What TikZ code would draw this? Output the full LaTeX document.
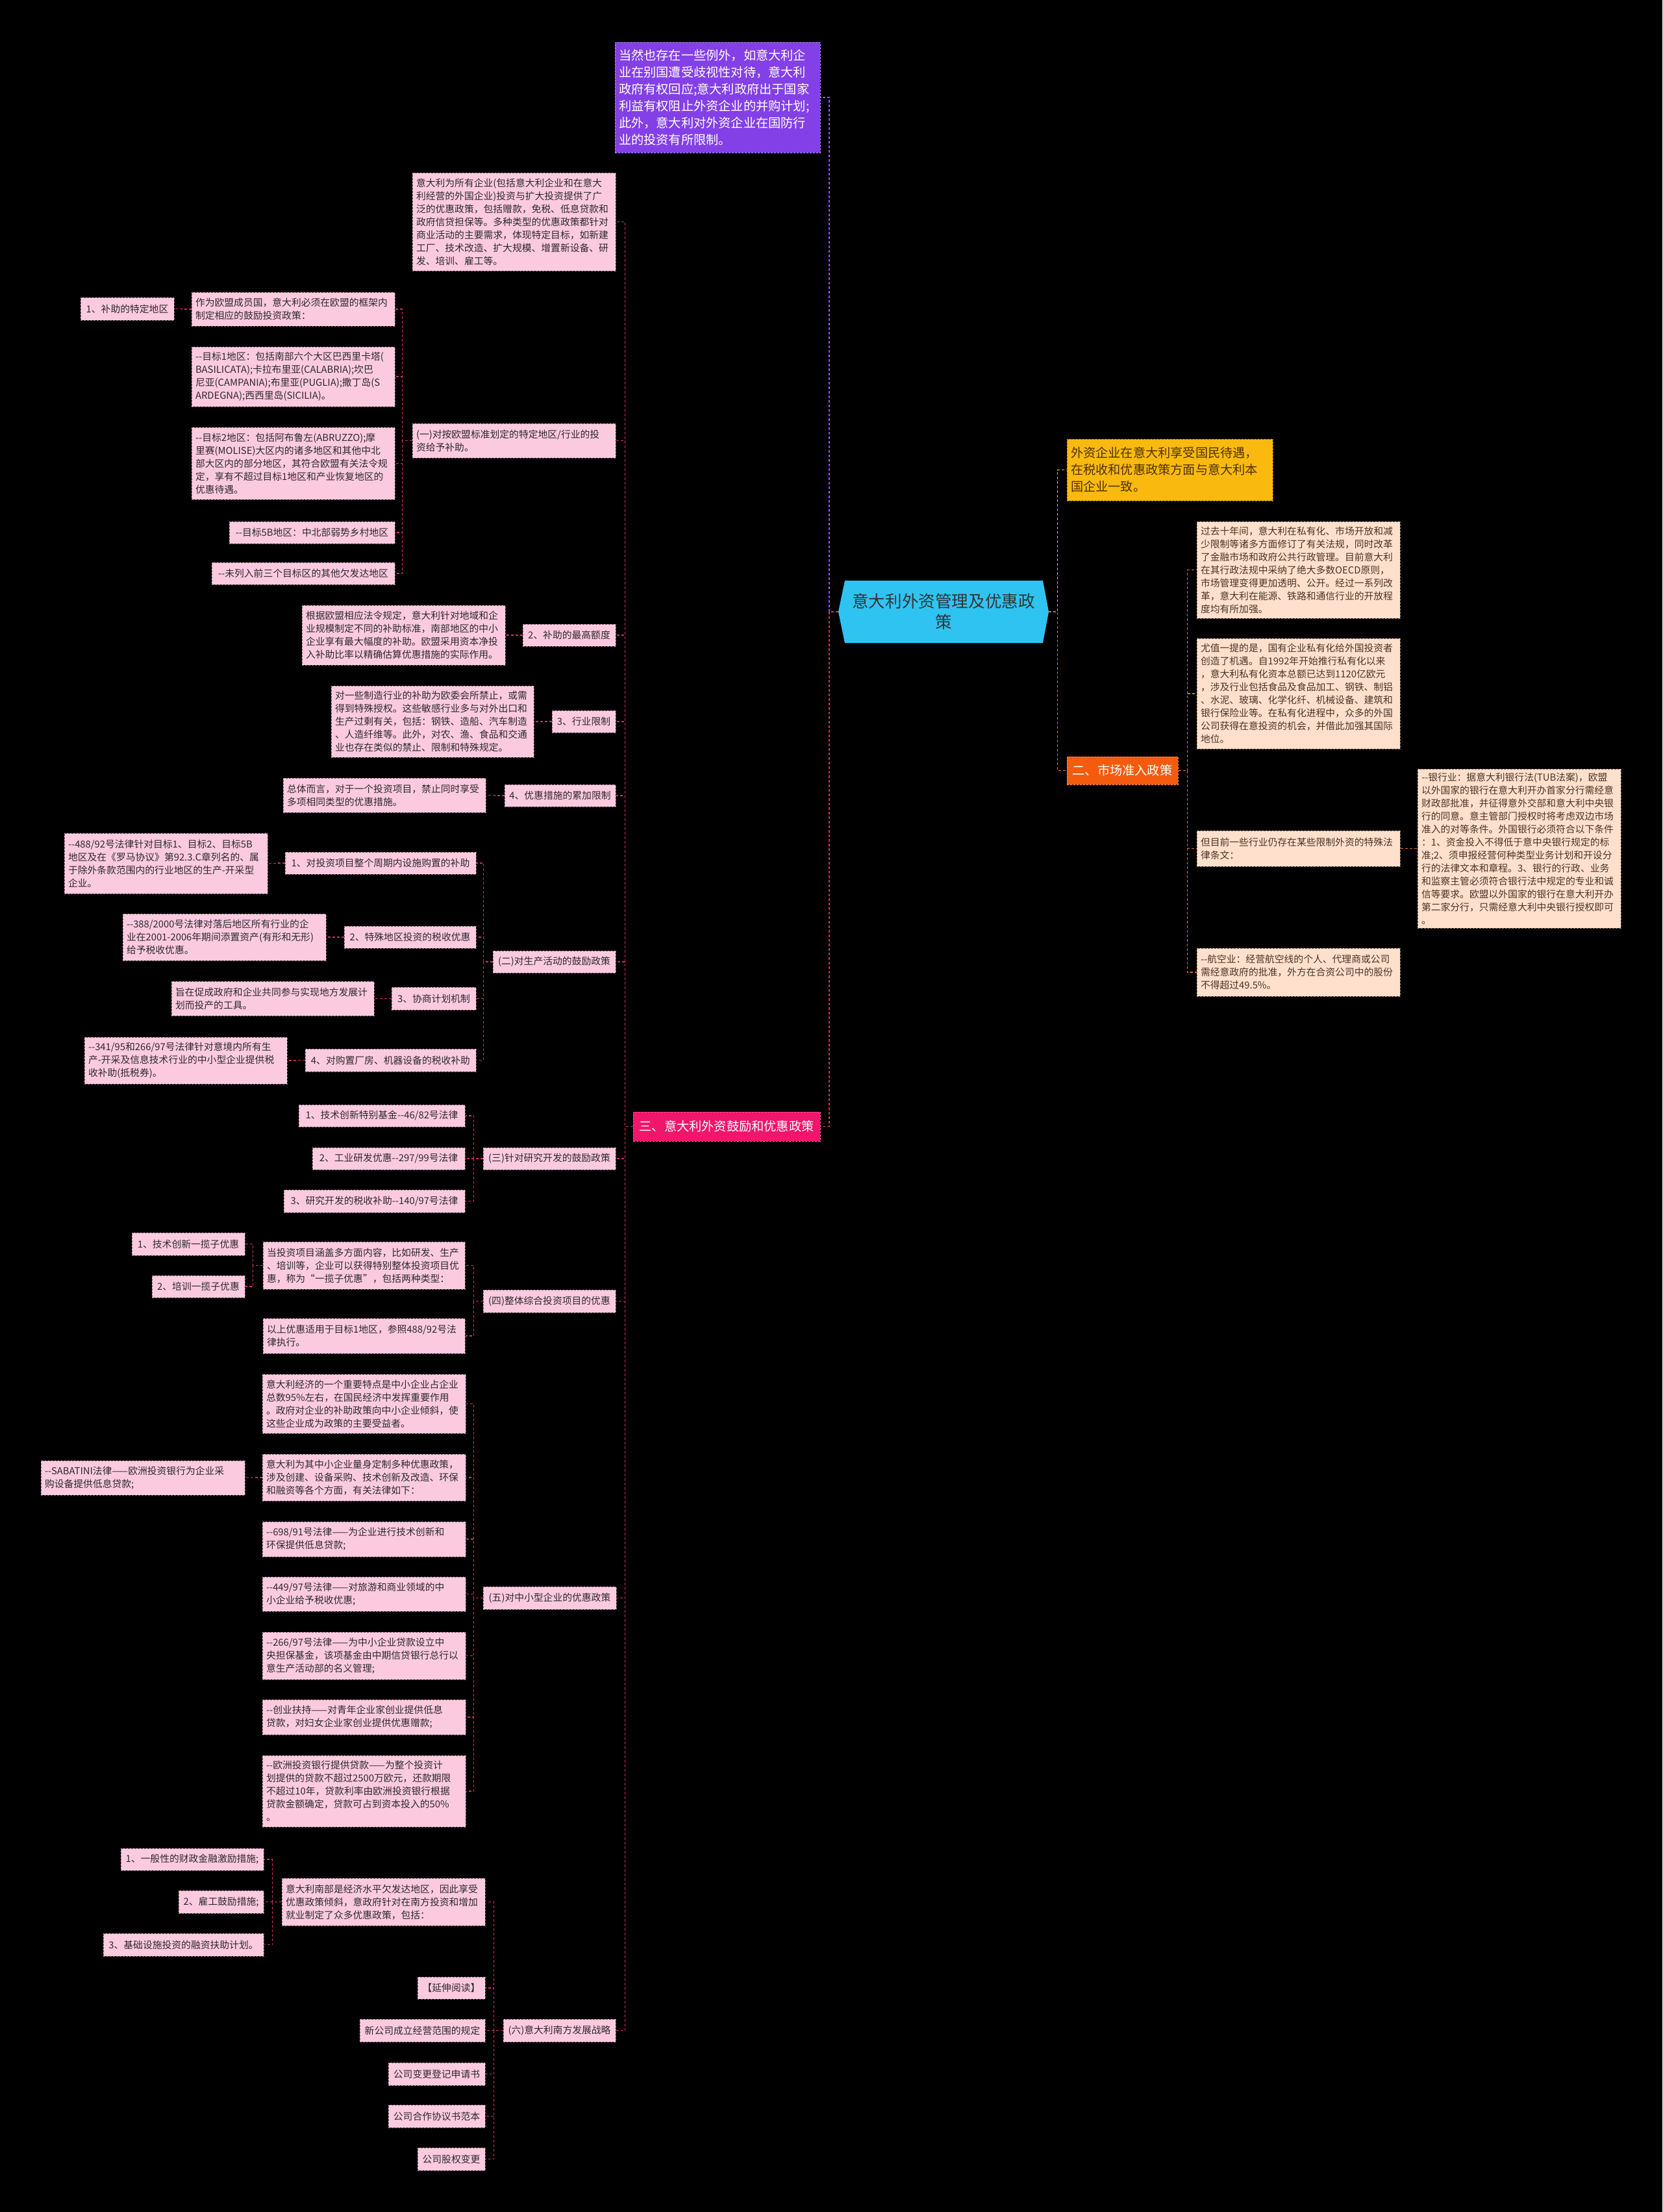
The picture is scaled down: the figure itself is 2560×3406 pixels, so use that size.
\documentclass[tikz,border=0pt]{standalone}
\usepackage{fontspec}
\setmainfont{Noto Sans CJK SC}[Ligatures=TeXOff]
\definecolor{pkfill}{HTML}{FCCADF}
\definecolor{pkline}{HTML}{7A6670}
\definecolor{pktext}{HTML}{2B2B2B}
\definecolor{pcfill}{HTML}{FFE0CC}
\definecolor{pcline}{HTML}{8A7060}
\definecolor{pctext}{HTML}{4A3426}
\definecolor{yefill}{HTML}{F9B90F}
\definecolor{yetext}{HTML}{4D3300}
\definecolor{pufill}{HTML}{8340E6}
\definecolor{mafill}{HTML}{F0166B}
\definecolor{orfill}{HTML}{F55B0E}
\definecolor{rootfill}{HTML}{2FC3F2}
\definecolor{cpk}{HTML}{D02F66}
\definecolor{cor}{HTML}{EE6A1C}
\definecolor{cye}{HTML}{F5C21A}
\definecolor{cpu}{HTML}{8F55E8}
\tikzset{
  atbox/.style n args={4}{at={({(#1+#3)/2},{(#2+#4)/2})}, anchor=center,
     minimum width={(#3-#1)*0.5pt}, minimum height={(#4-#2)*0.5pt}},
  sb/.style n args={4}{atbox={#1}{#2}{#3}{#4}, align=center},
  tb/.code n args={4}{\pgfmathsetlengthmacro\tbw{(#3-#1)*0.5pt-6pt}%
     \edef\tbtmp{\noexpand\pgfkeysalso{text width=\tbw}}\tbtmp
     \pgfkeysalso{atbox={#1}{#2}{#3}{#4}, align=left}},
  box/.style={inner sep=0pt, line width=0.5pt, dash pattern=on 1.5pt off 1pt},
  small/.style={font={\fontsize{7.4pt}{10pt}\selectfont}},
  big/.style={font={\fontsize{9.6pt}{13pt}\selectfont}},
  pk/.style={box, small, fill=pkfill, draw=pkline, text=pktext},
  pc/.style={box, small, fill=pcfill, draw=pcline, text=pctext},
  ye/.style={box, big, fill=yefill, draw=yetext!60!yefill, text=yetext},
  pu/.style={box, big, fill=pufill, draw=white!40!pufill, text=white},
  ma/.style={box, big, fill=mafill, draw=white!30!mafill, text=white},
  orb/.style={box, big, fill=orfill, draw=white!30!orfill, text=white},
  conn/.style={line width=0.9pt, dash pattern=on 2pt off 1.5pt},
  lpk/.style={conn, draw=cpk},
  lor/.style={conn, draw=cor},
  lye/.style={conn, draw=cye},
  lpu/.style={conn, draw=cpu},
}
\begin{document}
\begin{tikzpicture}[x=0.5pt,y=-0.5pt]
\fill[black] (0,0) rectangle (2560,3406);
\useasboundingbox (0,0) rectangle (2560,3406);

% root
\fill[rootfill] (1291,942) -- (1301,894) -- (1606,894) -- (1615,942) -- (1606,990) -- (1301,990) -- cycle;
\node[inner sep=0pt, text=black!80, font={\fontsize{12.8pt}{16pt}\selectfont}, sb={1291}{894}{1615}{990}] (root) {意大利外资管理及优惠政\\策};

% right side
\node[ye, tb={1643}{676}{1960}{771}] (Y) {外资企业在意大利享受国民待遇，\\在税收和优惠政策方面与意大利本\\国企业一致。};
\node[orb, sb={1643}{1165}{1814}{1208}] (E2) {二、市场准入政策};
\node[pc, tb={1843}{803}{2156}{952}] (R1) {过去十年间，意大利在私有化、市场开放和减\\少限制等诸多方面修订了有关法规，同时改革\\了金融市场和政府公共行政管理。目前意大利\\在其行政法规中采纳了绝大多数OECD原则，\\市场管理变得更加透明、公开。经过一系列改\\革，意大利在能源、铁路和通信行业的开放程\\度均有所加强。};
\node[pc, tb={1843}{983}{2156}{1153}] (R2) {尤值一提的是，国有企业私有化给外国投资者\\创造了机遇。自1992年开始推行私有化以来\\，意大利私有化资本总额已达到1120亿欧元\\，涉及行业包括食品及食品加工、钢铁、制铝\\、水泥、玻璃、化学化纤、机械设备、建筑和\\银行保险业等。在私有化进程中，众多的外国\\公司获得在意投资的机会，并借此加强其国际\\地位。};
\node[pc, tb={1843}{1279}{2156}{1334}] (R3) {但目前一些行业仍存在某些限制外资的特殊法\\律条文：};
\node[pc, tb={2183}{1184}{2496}{1429}] (R3a) {--银行业：据意大利银行法(TUB法案)，欧盟\\以外国家的银行在意大利开办首家分行需经意\\财政部批准，并征得意外交部和意大利中央银\\行的同意。意主管部门授权时将考虑双边市场\\准入的对等条件。外国银行必须符合以下条件\\：1、资金投入不得低于意中央银行规定的标\\准;2、须申报经营何种类型业务计划和开设分\\行的法律文本和章程。3、银行的行政、业务\\和监察主管必须符合银行法中规定的专业和诚\\信等要求。欧盟以外国家的银行在意大利开办\\第二家分行，只需经意大利中央银行授权即可\\。};
\node[pc, tb={1843}{1460}{2156}{1534}] (R4) {--航空业：经营航空线的个人、代理商或公司\\需经意政府的批准，外方在合资公司中的股份\\不得超过49.5\%。};

% left: top level
\node[pu, tb={947}{65}{1263}{235}] (P) {当然也存在一些例外，如意大利企\\业在别国遭受歧视性对待，意大利\\政府有权回应;意大利政府出于国家\\利益有权阻止外资企业的并购计划;\\此外，意大利对外资企业在国防行\\业的投资有所限制。};
\node[ma, sb={975}{1712}{1263}{1757}] (S3) {三、意大利外资鼓励和优惠政策};

% children of S3
\node[pk, tb={635}{266}{948}{417}] (T1) {意大利为所有企业(包括意大利企业和在意大\\利经营的外国企业)投资与扩大投资提供了广\\泛的优惠政策，包括赠款，免税、低息贷款和\\政府信贷担保等。多种类型的优惠政策都针对\\商业活动的主要需求，体现特定目标，如新建\\工厂、技术改造、扩大规模、增置新设备、研\\发、培训、雇工等。};
\node[pk, tb={635}{652}{948}{705}] (A) {(一)对按欧盟标准划定的特定地区/行业的投\\资给予补助。};
\node[pk, tb={295}{450}{608}{502}] (A1) {作为欧盟成员国，意大利必须在欧盟的框架内\\制定相应的鼓励投资政策：};
\node[pk, sb={124}{458}{268}{493}] (A1a) {1、补助的特定地区};
\node[pk, tb={295}{534}{608}{626}] (A2) {--目标1地区：包括南部六个大区巴西里卡塔(\\BASILICATA);卡拉布里亚(CALABRIA);坎巴\\尼亚(CAMPANIA);布里亚(PUGLIA);撒丁岛(S\\ARDEGNA);西西里岛(SICILIA)。};
\node[pk, tb={295}{658}{608}{769}] (A3) {--目标2地区：包括阿布鲁左(ABRUZZO);摩\\里赛(MOLISE)大区内的诸多地区和其他中北\\部大区内的部分地区，其符合欧盟有关法令规\\定，享有不超过目标1地区和产业恢复地区的\\优惠待遇。};
\node[pk, sb={353}{803}{608}{837}] (A4) {--目标5B地区：中北部弱势乡村地区};
\node[pk, sb={326}{866}{608}{900}] (A5) {--未列入前三个目标区的其他欠发达地区};

\node[pk, sb={805}{961}{948}{995}] (N2) {2、补助的最高额度};
\node[pk, tb={465}{932}{778}{1024}] (N2a) {根据欧盟相应法令规定，意大利针对地域和企\\业规模制定不同的补助标准，南部地区的中小\\企业享有最大幅度的补助。欧盟采用资本净投\\入补助比率以精确估算优惠措施的实际作用。};
\node[pk, sb={850}{1094}{948}{1128}] (N3) {3、行业限制};
\node[pk, tb={510}{1056}{822}{1166}] (N3a) {对一些制造行业的补助为欧委会所禁止，或需\\得到特殊授权。这些敏感行业多与对外出口和\\生产过剩有关，包括：钢铁、造船、汽车制造\\、人造纤维等。此外，对农、渔、食品和交通\\业也存在类似的禁止、限制和特殊规定。};
\node[pk, sb={777}{1208}{948}{1242}] (N4) {4、优惠措施的累加限制};
\node[pk, tb={436}{1198}{748}{1251}] (N4a) {总体而言，对于一个投资项目，禁止同时享受\\多项相同类型的优惠措施。};

\node[pk, sb={759}{1464}{948}{1498}] (B) {(二)对生产活动的鼓励政策};
\node[pk, sb={439}{1312}{733}{1346}] (B1) {1、对投资项目整个周期内设施购置的补助};
\node[pk, tb={99}{1283}{412}{1376}] (B1a) {--488/92号法律针对目标1、目标2、目标5B\\地区及在《罗马协议》第92.3.C章列名的、属\\于除外条款范围内的行业地区的生产-开采型\\企业。};
\node[pk, sb={530}{1426}{733}{1460}] (B2) {2、特殊地区投资的税收优惠};
\node[pk, tb={189}{1407}{502}{1479}] (B2a) {--388/2000号法律对落后地区所有行业的企\\业在2001-2006年期间添置资产(有形和无形)\\给予税收优惠。};
\node[pk, sb={603}{1520}{733}{1555}] (B3) {3、协商计划机制};
\node[pk, tb={264}{1511}{576}{1564}] (B3a) {旨在促成政府和企业共同参与实现地方发展计\\划而投产的工具。};
\node[pk, sb={470}{1615}{733}{1650}] (B4) {4、对购置厂房、机器设备的税收补助};
\node[pk, tb={130}{1597}{442}{1669}] (B4a) {--341/95和266/97号法律针对意境内所有生\\产-开采及信息技术行业的中小型企业提供税\\收补助(抵税券)。};

\node[pk, sb={744}{1767}{948}{1801}] (C) {(三)针对研究开发的鼓励政策};
\node[pk, sb={460}{1701}{716}{1735}] (C1) {1、技术创新特别基金--46/82号法律};
\node[pk, sb={481}{1767}{716}{1801}] (C2) {2、工业研发优惠--297/99号法律};
\node[pk, sb={437}{1832}{716}{1867}] (C3) {3、研究开发的税收补助--140/97号法律};

\node[pk, sb={744}{1986}{948}{2021}] (D) {(四)整体综合投资项目的优惠};
\node[pk, tb={405}{1912}{716}{1985}] (D1) {当投资项目涵盖多方面内容，比如研发、生产\\、培训等，企业可以获得特别整体投资项目优\\惠，称为“一揽子优惠”，包括两种类型：};
\node[pk, sb={203}{1898}{377}{1933}] (D1a) {1、技术创新一揽子优惠};
\node[pk, sb={234}{1964}{377}{1998}] (D1b) {2、培训一揽子优惠};
\node[pk, tb={405}{2030}{716}{2084}] (D2) {以上优惠适用于目标1地区，参照488/92号法\\律执行。};

\node[pk, sb={744}{2443}{949}{2478}] (E) {(五)对中小型企业的优惠政策};
\node[pk, tb={404}{2116}{717}{2207}] (E1) {意大利经济的一个重要特点是中小企业占企业\\总数95\%左右，在国民经济中发挥重要作用\\。政府对企业的补助政策向中小企业倾斜，使\\这些企业成为政策的主要受益者。};
\node[pk, tb={404}{2239}{717}{2311}] (E2a) {意大利为其中小企业量身定制多种优惠政策，\\涉及创建、设备采购、技术创新及改造、环保\\和融资等各个方面，有关法律如下：};
\node[pk, tb={63}{2249}{377}{2302}] (E2b) {--SABATINI法律——欧洲投资银行为企业采\\购设备提供低息贷款;};
\node[pk, tb={404}{2343}{717}{2397}] (E3) {--698/91号法律——为企业进行技术创新和\\环保提供低息贷款;};
\node[pk, tb={404}{2428}{717}{2481}] (E4) {--449/97号法律——对旅游和商业领域的中\\小企业给予税收优惠;};
\node[pk, tb={404}{2513}{717}{2586}] (E5) {--266/97号法律——为中小企业贷款设立中\\央担保基金，该项基金由中期信贷银行总行以\\意生产活动部的名义管理;};
\node[pk, tb={404}{2617}{717}{2671}] (E6) {--创业扶持——对青年企业家创业提供低息\\贷款，对妇女企业家创业提供优惠赠款;};
\node[pk, tb={404}{2703}{717}{2813}] (E7) {--欧洲投资银行提供贷款——为整个投资计\\划提供的贷款不超过2500万欧元，还款期限\\不超过10年，贷款利率由欧洲投资银行根据\\贷款金额确定，贷款可占到资本投入的50\%\\。};

\node[pk, sb={775}{3109}{948}{3144}] (F) {(六)意大利南方发展战略};
\node[pk, tb={434}{2892}{747}{2965}] (F1) {意大利南部是经济水平欠发达地区，因此享受\\优惠政策倾斜，意政府针对在南方投资和增加\\就业制定了众多优惠政策，包括：};
\node[pk, sb={186}{2846}{406}{2880}] (F1a) {1、一般性的财政金融激励措施;};
\node[pk, sb={275}{2911}{406}{2946}] (F1b) {2、雇工鼓励措施;};
\node[pk, sb={159}{2977}{406}{3012}] (F1c) {3、基础设施投资的融资扶助计划。};
\node[pk, sb={643}{3044}{747}{3078}] (F2) {【延伸阅读】};
\node[pk, sb={554}{3109}{747}{3144}] (F3) {新公司成立经营范围的规定};
\node[pk, sb={598}{3176}{747}{3211}] (F4) {公司变更登记申请书};
\node[pk, sb={598}{3241}{747}{3276}] (F5) {公司合作协议书范本};
\node[pk, sb={643}{3307}{747}{3342}] (F6) {公司股权变更};

% connectors: root
\draw[lpu] (root.west) -- ++(-14,0) |- (P.east);
\draw[lpk] (root.west) -- ++(-14,0) |- (S3.east);
\draw[lye] (root.east) -- ++(13,0) |- (Y.west);
\draw[lor] (root.east) -- ++(13,0) |- (E2.west);
% market access
\foreach \c in {R1,R2,R3,R4} \draw[lor] (E2.east) -- ++(14,0) |- (\c.west);
\draw[lor] (R3.east) -- (R3a.west);
% S3 children
\foreach \c in {T1,A,N2,N3,N4,B,C,D,E,F} \draw[lpk] (S3.west) -- ++(-12,0) |- (\c.east);
\foreach \c in {A1,A2,A3,A4,A5} \draw[lpk] (A.west) -- ++(-15,0) |- (\c.east);
\draw[lpk] (A1.west) -- ++(-14,0) |- (A1a.east);
\draw[lpk] (N2.west) -- ++(-14,0) |- (N2a.east);
\draw[lpk] (N3.west) -- ++(-14,0) |- (N3a.east);
\draw[lpk] (N4.west) -- ++(-14,0) |- (N4a.east);
\foreach \c in {B1,B2,B3,B4} \draw[lpk] (B.west) -- ++(-14,0) |- (\c.east);
\draw[lpk] (B1.west) -- ++(-13,0) |- (B1a.east);
\draw[lpk] (B2.west) -- ++(-14,0) |- (B2a.east);
\draw[lpk] (B3.west) -- ++(-14,0) |- (B3a.east);
\draw[lpk] (B4.west) -- ++(-14,0) |- (B4a.east);
\foreach \c in {C1,C2,C3} \draw[lpk] (C.west) -- ++(-14,0) |- (\c.east);
\foreach \c in {D1,D2} \draw[lpk] (D.west) -- ++(-14,0) |- (\c.east);
\foreach \c in {D1a,D1b} \draw[lpk] (D1.west) -- ++(-15,0) |- (\c.east);
\foreach \c in {E1,E2a,E3,E4,E5,E6,E7} \draw[lpk] (E.west) -- ++(-14,0) |- (\c.east);
\draw[lpk] (E2a.west) -- ++(-13,0) |- (E2b.east);
\foreach \c in {F1,F2,F3,F4,F5,F6} \draw[lpk] (F.west) -- ++(-14,0) |- (\c.east);
\foreach \c in {F1a,F1b,F1c} \draw[lpk] (F1.west) -- ++(-14,0) |- (\c.east);
\end{tikzpicture}
\end{document}
